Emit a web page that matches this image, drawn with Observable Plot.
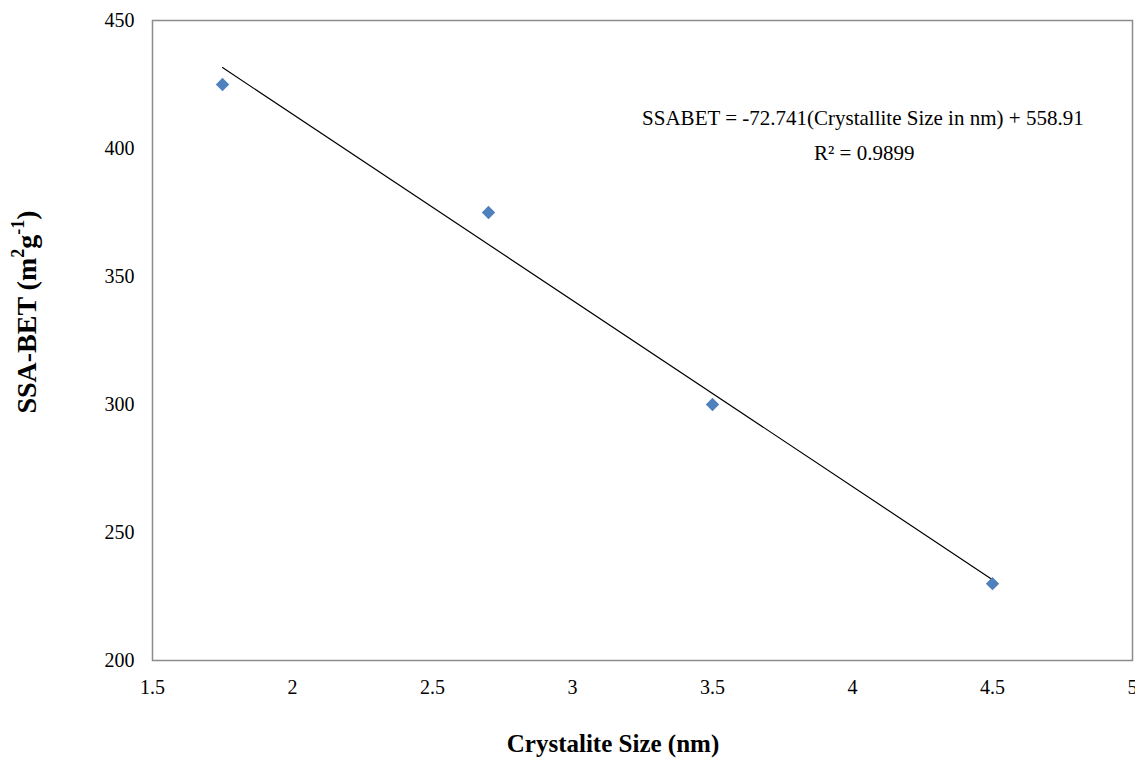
<!DOCTYPE html>
<html>
<head>
<meta charset="utf-8">
<script src="https://cdn.jsdelivr.net/npm/d3@7"></script>
<script src="https://cdn.jsdelivr.net/npm/@observablehq/plot@0.6"></script>
<style>
  html, body { margin: 0; padding: 0; background: #fff; }
  svg { display: block; }
  svg text { font-family: "Liberation Serif", "Times New Roman", serif !important; }
</style>
</head>
<body>
<div id="chart"></div>
<script>
// Data
const crystalliteSize = [1.75, 2.7, 3.5, 4.5];
const ssaBET = [425, 375, 300, 230];
// Linear trend (from the chart's equation)
const slope = -72.741;
const intercept = 558.91;
const rSquared = 0.9899;
const xTicks = [1.5, 2, 2.5, 3, 3.5, 4, 4.5, 5];
const yTicks = [200, 250, 300, 350, 400, 450];

const points = crystalliteSize.map((x, i) => ({x, y: ssaBET[i]}));
const xMin = d3.min(crystalliteSize), xMax = d3.max(crystalliteSize);
const trend = [xMin, xMax].map(x => ({x, y: slope * x + intercept}));

const font = "Liberation Serif";

const chart = Plot.plot({
  width: 1135,
  height: 759,
  marginLeft: 152,
  marginRight: 3,
  marginTop: 20,
  marginBottom: 99,
  style: {fontFamily: font, fontSize: "20px", color: "#000", background: "#fff"},
  x: {domain: [1.5, 5], ticks: xTicks, tickFormat: d => String(d)},
  y: {domain: [200, 450], ticks: yTicks, tickFormat: d => String(d)},
  marks: [
    Plot.frame({stroke: "#8c8c8c", strokeWidth: 1.5}),
    Plot.axisX({ticks: xTicks, tickSize: 0, tickPadding: 19, label: null, fontSize: 20, fontFamily: font, tickFormat: d => String(d)}),
    Plot.axisY({ticks: yTicks, tickSize: 0, tickPadding: 18, label: null, fontSize: 20, fontFamily: font, tickFormat: d => String(d)}),
    Plot.line(trend, {x: "x", y: "y", stroke: "#000", strokeWidth: 1.2}),
    Plot.dot(points, {x: "x", y: "y", symbol: "diamond2", r: 6, fill: "#4f81bd", stroke: "none"}),
    Plot.text([`SSABET = ${slope}(Crystallite Size in nm) + ${intercept}`], {
      x: 4.037, y: 411.7, text: d => d, fontSize: 21, fontFamily: font, fill: "#000", textAnchor: "middle"
    }),
    Plot.text([`R² = ${rSquared}`], {
      x: 4.042, y: 398.0, text: d => d, fontSize: 21, fontFamily: font, fill: "#000", textAnchor: "middle"
    })
  ]
});

const svg = d3.select(chart);
// X axis title
svg.append("text")
  .attr("x", 613).attr("y", 752)
  .attr("text-anchor", "middle")
  .attr("font-family", font).attr("font-size", 25).attr("font-weight", "bold")
  .attr("fill", "#000")
  .text("Crystalite Size (nm)");
// Y axis title with superscripts
const yt = svg.append("text")
  .attr("transform", "translate(36,312) rotate(-90)")
  .attr("text-anchor", "middle")
  .attr("font-family", font).attr("font-size", 28).attr("font-weight", "bold")
  .attr("fill", "#000");
yt.append("tspan").text("SSA-BET (m");
yt.append("tspan").attr("dy", -12).attr("font-size", 18).text("2");
yt.append("tspan").attr("dy", 12).text("g");
yt.append("tspan").attr("dy", -12).attr("font-size", 18).text("-1");
yt.append("tspan").attr("dy", 12).text(")");

document.getElementById("chart").appendChild(chart);
</script>
</body>
</html>
